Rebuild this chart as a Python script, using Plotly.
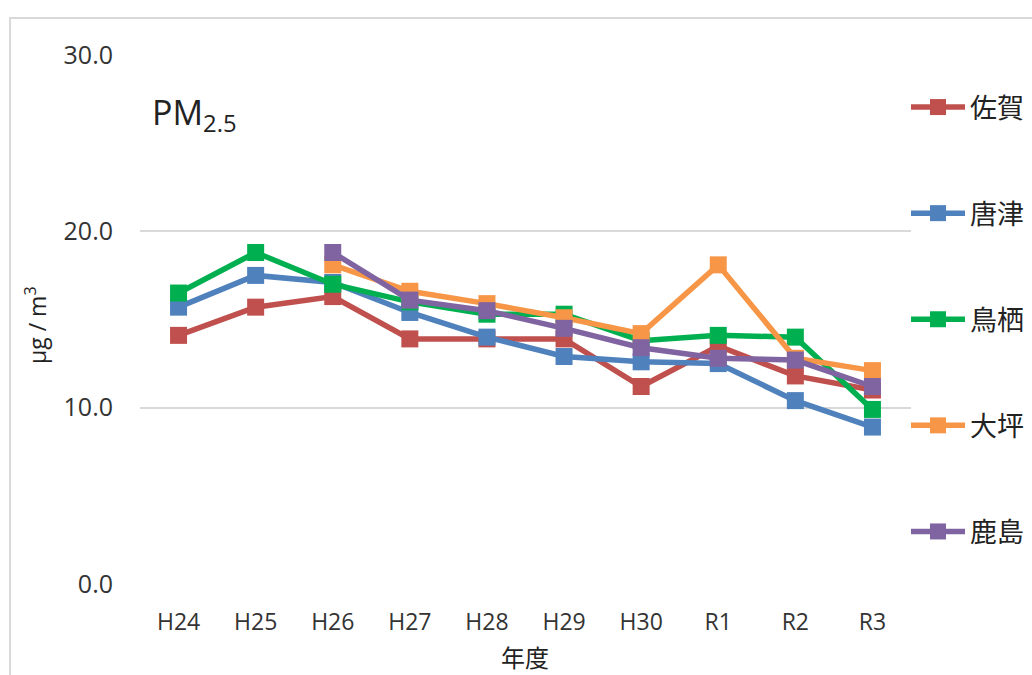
import plotly.graph_objects as go

years = ["H24", "H25", "H26", "H27", "H28", "H29", "H30", "R1", "R2", "R3"]
saga = [14.1, 15.7, 16.3, 13.9, 13.9, 13.9, 11.2, 13.5, 11.8, 11.0]
karatsu = [15.7, 17.5, 17.1, 15.4, 14.0, 12.9, 12.6, 12.5, 10.4, 8.9]
tosu = [16.5, 18.8, 17.0, 16.0, 15.3, 15.3, 13.8, 14.1, 14.0, 9.9]
otsubo = [None, None, 18.1, 16.6, 15.9, 15.1, 14.2, 18.1, 12.8, 12.1]
kashima = [None, None, 18.8, 16.1, 15.5, 14.5, 13.4, 12.8, 12.7, 11.2]

series_names = ["佐賀", "唐津", "鳥栖", "大坪", "鹿島"]
series_values = [saga, karatsu, tosu, otsubo, kashima]
colors = ["#C0504D", "#4F81BD", "#00B050", "#F79646", "#8064A2"]

y_ticks = [0, 10, 20, 30]
y_tick_labels = ["0.0", "10.0", "20.0", "30.0"]

tick_font = "Open Sans, Lato, sans-serif"
cjk_font = "Noto Sans CJK JP, sans-serif"

fig = go.Figure()
for name, vals, col in zip(series_names, series_values, colors):
    fig.add_trace(go.Scatter(
        x=years, y=vals, name=name, mode="lines+markers",
        line=dict(color=col, width=5.5),
        marker=dict(symbol="square", size=17, color=col),
        legendgroup=name,
    ))

W, H = 1032, 675
L, T = 140, 55
R = W - 911
B = H - 584
pw, ph = W - L - R, H - T - B

def px(xp):
    return (xp - L) / pw

def py(yp):
    return (H - B - yp) / ph

fig.update_layout(
    width=W, height=H,
    margin=dict(l=L, r=R, t=T, b=B, pad=0, autoexpand=False),
    paper_bgcolor="white", plot_bgcolor="white",
    showlegend=True,
    legend=dict(
        x=px(906), xanchor="left", y=py(83), yanchor="top",
        font=dict(family=cjk_font, size=27, color="#222222"),
        tracegroupgap=68, itemwidth=54,
        bgcolor="rgba(0,0,0,0)",
    ),
    xaxis=dict(
        type="category", range=[-0.5, 9.5],
        showgrid=False, zeroline=False, showline=False,
        ticks="", tickfont=dict(family=tick_font, size=23, color="#333333"),
        ticklabelstandoff=22,
    ),
    yaxis=dict(
        range=[0, 30], tickvals=y_ticks, ticktext=y_tick_labels,
        showgrid=True, gridcolor="#d9d9d9", gridwidth=1.5,
        zeroline=False, showline=False, ticks="",
        tickfont=dict(family=tick_font, size=25, color="#333333"),
        ticklabelstandoff=26,
    ),
    annotations=[
        dict(text="PM<sub>2.5</sub>", xref="paper", yref="paper",
             x=px(150), y=py(114), xanchor="left", yanchor="middle",
             showarrow=False, font=dict(family=tick_font, size=34, color="#222222")),
        dict(text="μg / m<sup>3</sup>", xref="paper", yref="paper",
             x=px(36), y=py(325), xanchor="center", yanchor="middle", textangle=-90,
             showarrow=False, font=dict(family=tick_font, size=23, color="#222222")),
        dict(text="年度", xref="paper", yref="paper",
             x=px(525), y=py(656), xanchor="center", yanchor="middle",
             showarrow=False, font=dict(family=cjk_font, size=24, color="#222222")),
    ],
    shapes=[
        dict(type="rect", xref="paper", yref="paper",
             x0=px(10), x1=px(1040), y0=py(690), y1=py(18),
             line=dict(color="#d9d9d9", width=2), fillcolor="rgba(0,0,0,0)", layer="below"),
    ],
)

fig.write_html(
    "out.html",
    config={"displayModeBar": False},
    post_script="document.body.style.margin='0';document.body.style.overflow='hidden';",
)
